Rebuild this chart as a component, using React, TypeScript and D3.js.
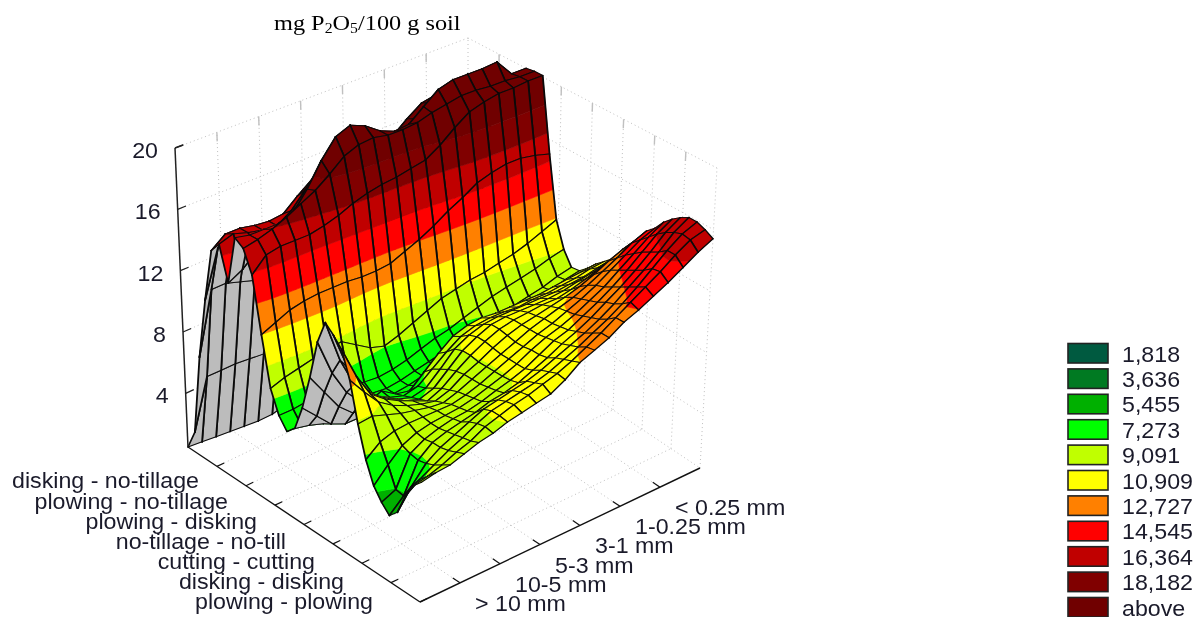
import React, { useEffect, useRef } from "react";
import * as d3 from "d3";

const WIDTH = 1202;
const HEIGHT = 617;

const treatments = [
  "disking - no-tillage",
  "plowing - no-tillage",
  "plowing - disking",
  "no-tillage - no-till",
  "cutting - cutting",
  "disking - disking",
  "plowing - plowing",
];
const fractions = ["> 10 mm", "10-5 mm", "5-3 mm", "3-1 mm", "1-0.25 mm", "< 0.25 mm"];
const zTicks = [4, 8, 12, 16, 20];
const legendLabels = ["1,818", "3,636", "5,455", "7,273", "9,091", "10,909", "12,727", "14,545", "16,364", "18,182", "above"];
const levels = [1.818, 3.636, 5.455, 7.273, 9.091, 10.909, 12.727, 14.545, 16.364, 18.182];
const levelColors = ["#005a40", "#007a22", "#00b000", "#00ff00", "#c0ff00", "#ffff00", "#ff8000", "#ff0000", "#c00000", "#800000", "#700000"];

// mg P2O5: one row per mesh line along the tillage axis,
// one column per mesh line along the fraction axis
const heights = [
  [0.5, 0.4, 0.3, 0.2, 0.1, 0, 0, 0.2, 0.5, 1, 1, 1, 1, 1, 1, 1, 1, 1, 1, 1, 1.2],
  [1.8, 5, 5, 5, 4.9, 4.8, 4.8, 5, 5, 5, 5, 5, 5, 5, 5, 5, 5, 5, 5, 5, 5],
  [7, 11, 11, 10.7, 10.4, 10.2, 10.2, 10.5, 10.5, 10.5, 10.5, 10.5, 10.5, 10.5, 10.5, 10.5, 10.5, 10.5, 10.5, 11, 11],
  [11, 14, 14, 14, 14, 14, 14.5, 15, 15.5, 16, 16, 16, 16, 16, 16, 16, 16, 16, 16, 16, 16],
  [14.5, 15.2, 15.2, 15, 14.9, 15, 15.8, 16.5, 17, 17, 17, 17, 17, 17.4, 18, 18.5, 18.5, 18.5, 18.5, 18, 18],
  [15.2, 15.5, 15.2, 15, 14.9, 15.5, 16.5, 17.5, 18, 18, 17.9, 17.6, 17.8, 18.6, 19.3, 19.5, 19.5, 19.5, 19.5, 18.8, 18.6],
  [13, 13.5, 14.3, 15, 15.4, 16.2, 17.3, 18.5, 18.9, 18.6, 18.1, 17.9, 18, 18.9, 19.6, 19.8, 19.8, 19.8, 19.8, 19, 18.9],
  [16.2, 16, 16, 16, 16.3, 17.5, 19, 20.2, 20.6, 20.2, 19.5, 19.1, 19.2, 20, 20.8, 21.1, 21.1, 21.1, 21.2, 20, 20],
  [15.8, 16, 16.3, 16.7, 17.2, 17.7, 18.4, 19.2, 19.6, 19.7, 19.5, 19.5, 19.6, 19.9, 20.1, 20.3, 20.3, 20.2, 20.2, 20.1, 20.1],
  [14.4, 15.3, 15.5, 15.5, 15.5, 15.7, 16, 16.4, 16.7, 16.9, 17, 17.2, 17.4, 18, 18.8, 19.5, 19.8, 20, 20, 20.1, 20.1],
  [10.9, 11.3, 11.7, 11.9, 12, 12, 12, 11.9, 11.9, 12, 12.4, 12.8, 13.3, 13.9, 14.4, 15, 15.3, 15.5, 15.5, 15.3, 15],
  [7.8, 8.1, 8.3, 8.5, 8.7, 8.8, 8.2, 7.6, 7.3, 7.6, 8, 8.4, 8.8, 9, 9.2, 9.3, 9.5, 9.7, 10, 10.4, 10.8],
  [6.4, 6.4, 6.5, 6.5, 6.4, 6.3, 6.1, 6, 6.1, 6.3, 6.6, 6.9, 7.1, 7.4, 7.7, 8, 8.2, 8.4, 8.6, 8.9, 9.1],
  [5.7, 5.7, 5.7, 5.7, 5.8, 5.8, 5.7, 5.6, 5.7, 5.9, 6.1, 6.3, 6.5, 6.7, 6.9, 7.1, 7.3, 7.5, 7.7, 8, 8.2],
  [6.2, 6, 5.7, 5.6, 5.6, 5.7, 5.7, 5.6, 5.7, 5.9, 6.1, 6.3, 6.6, 6.9, 7.1, 7.2, 7.4, 7.6, 7.8, 8.1, 8.3],
  [7.8, 6.9, 6, 5.6, 5.6, 5.7, 5.8, 5.8, 6, 6.4, 6.8, 7.2, 7.6, 7.9, 8, 8.1, 8.2, 8.3, 8.4, 8.6, 8.8],
  [10, 8.7, 7.4, 6.6, 6.8, 7.2, 6.6, 6.4, 7.2, 8, 8.7, 9, 9.1, 9, 9, 9, 9, 9.1, 9.2, 9.3, 9.4],
  [12.5, 10.2, 8.6, 7.6, 7.6, 7.1, 6.8, 7, 7.7, 8.4, 9, 9.3, 9.4, 9.4, 9.3, 9.4, 9.4, 9.5, 9.6, 9.8, 9.9],
  [14, 11.3, 9.4, 8.3, 7.8, 7.3, 7, 7.2, 8, 8.9, 9.4, 9.7, 9.8, 9.8, 9.8, 9.8, 9.8, 9.9, 10, 10.2, 10.4],
  [13.5, 11.1, 9.5, 8.6, 8, 7.5, 7.2, 7.5, 8.3, 9.1, 9.6, 10, 10.1, 10.1, 10.1, 10.1, 10.2, 10.4, 10.6, 10.8, 11],
  [12.9, 10.9, 9.4, 8.7, 8.2, 7.8, 7.4, 7.8, 8.5, 9.1, 9.6, 10, 10.2, 10.3, 10.4, 10.4, 10.6, 10.9, 11.2, 11.5, 11.7],
  [11.3, 10.2, 9.2, 8.6, 8.2, 7.9, 7.7, 8, 8.6, 9, 9.5, 9.9, 10.2, 10.4, 10.6, 10.8, 11.1, 11.5, 12, 12.4, 12.7],
  [8.9, 9, 8.7, 8.4, 8.2, 8, 7.9, 8.2, 8.6, 9, 9.4, 9.8, 10.2, 10.5, 10.8, 11.1, 11.5, 12, 12.5, 13.1, 13.5],
  [7, 7.7, 8, 8.1, 8.1, 8.1, 8.1, 8.3, 8.6, 9, 9.4, 9.8, 10.2, 10.5, 10.9, 11.3, 11.8, 12.4, 13, 13.6, 14],
  [5.7, 6.6, 7.4, 7.8, 8, 8.1, 8.2, 8.4, 8.7, 9, 9.4, 9.9, 10.3, 10.6, 11, 11.5, 12, 12.7, 13.4, 14.1, 14.7],
  [5, 5.4, 7.2, 7.7, 8, 8.2, 8.3, 8.5, 8.8, 9.05, 9.4, 9.9, 10.4, 10.7, 11.2, 11.7, 12.3, 13, 13.8, 14.6, 15.2],
  [4.5, 5.3, 7.1, 7.8, 8.1, 8.3, 8.5, 8.8, 8.95, 9.2, 9.6, 10, 10.5, 10.9, 11.4, 12, 12.6, 13.3, 14.1, 15, 15.6],
  [5, 6.2, 7.2, 7.8, 8.2, 8.6, 9, 9.2, 9.4, 9.6, 9.9, 10.3, 10.7, 11.1, 11.6, 12.2, 12.9, 13.6, 14.4, 15.3, 15.9],
  [6.3, 6.9, 7.4, 7.9, 8.3, 8.8, 9.2, 9.4, 9.6, 9.8, 10.1, 10.5, 10.9, 11.4, 11.9, 12.5, 13.2, 14, 14.8, 15.5, 15.9],
  [7.2, 7.4, 7.7, 8.1, 8.4, 8.9, 9.2, 9.5, 9.7, 10, 10.3, 10.7, 11.2, 11.7, 12.3, 12.9, 13.5, 14.1, 14.8, 15.4, 15.7],
  [7.7, 7.9, 8, 8.3, 8.6, 8.8, 9.1, 9.3, 9.5, 9.7, 10.2, 10.9, 11.3, 11.7, 12.3, 12.7, 13.2, 13.7, 14.3, 14.9, 15.4],
];

// box corners on screen
const floorLeft = [188, 447];
const floorFront = [420, 602];
const floorRight = [700, 468];
const topLeft = [175, 148];
const topBack = [468, 38];
const topRight = [717, 168];

const tScale = d3.scaleLinear().domain([0, 8]).range([0, 1]);
const sScale = d3.scaleLinear().domain([0, 7]).range([0, 1]);
const zScale = d3.scaleLinear().domain([0.5, 20]).range([0, 1]);
const rowScale = d3.scaleLinear().domain([0, heights.length - 1]).range([0, 8]);
const colScale = d3.scaleLinear().domain([0, heights[0].length - 1]).range([0, 7]);
const fillScale = d3.scaleThreshold<number, string>().domain(levels).range(levelColors);

function project(t: number, s: number, z: number) {
  const u = tScale(t);
  const v = sScale(s);
  const f = zScale(z);
  const fx = floorLeft[0] + u * (floorFront[0] - floorLeft[0]) + v * (floorRight[0] - floorFront[0]);
  const fy = floorLeft[1] + u * (floorFront[1] - floorLeft[1]) + v * (floorRight[1] - floorFront[1]);
  const tx = topLeft[0] + u * (topRight[0] - topBack[0]) + v * (topBack[0] - topLeft[0]);
  const ty = topLeft[1] + u * (topRight[1] - topBack[1]) + v * (topBack[1] - topLeft[1]);
  return { x: fx + (tx - fx) * f, y: fy + (ty - fy) * f, z };
}

type Vertex = { x: number; y: number; z: number };

// keep the part of a polygon on one side of a level
function clip(poly: Vertex[], level: number, keepAbove: boolean) {
  const out: Vertex[] = [];
  poly.forEach((a, i) => {
    const b = poly[(i + 1) % poly.length];
    const aIn = keepAbove ? a.z >= level : a.z <= level;
    const bIn = keepAbove ? b.z >= level : b.z <= level;
    if (aIn) out.push(a);
    if (aIn !== bIn) {
      const k = (level - a.z) / (b.z - a.z);
      out.push({ x: a.x + (b.x - a.x) * k, y: a.y + (b.y - a.y) * k, z: level });
    }
  });
  return out;
}

const polyLine = d3
  .line<Vertex>()
  .x((d) => d.x)
  .y((d) => d.y)
  .curve(d3.curveLinearClosed);

function drawChart(node: SVGSVGElement) {
  const svg = d3.select(node);
  svg.selectAll("*").remove();

  const sans = "'Liberation Sans', Arial, sans-serif";
  const gridColor = "#c0c0c0";

  const seg = (a: Vertex, b: Vertex, color: string, width: number, dash?: string, parent: any = svg) =>
    parent
      .append("line")
      .attr("x1", a.x)
      .attr("y1", a.y)
      .attr("x2", b.x)
      .attr("y2", b.y)
      .attr("stroke", color)
      .attr("stroke-width", width)
      .attr("stroke-dasharray", dash || null);

  const text = (x: number, y: number, label: string, anchor: string) =>
    svg
      .append("text")
      .attr("transform", `translate(${x},${y}) scale(1.08,1)`)
      .attr("text-anchor", anchor)
      .attr("font-family", sans)
      .attr("font-size", 21.5)
      .attr("fill", "#1a1a2a")
      .text(label);

  // dotted grid on floor and back walls
  const tTicks = d3.range(1, 8);
  const sTicks = d3.range(1, 7);
  const dots = "1 3";
  tTicks.forEach((t) => {
    seg(project(t, 0, 0.5), project(t, 7, 0.5), gridColor, 1, dots);
  });
  sTicks.forEach((s) => {
    seg(project(0, s, 0.5), project(8, s, 0.5), gridColor, 1, dots);
    seg(project(0, s, 0.5), project(0, s, 20), gridColor, 1, dots);
    seg(project(0, s, 20), project(0, s, 19.4), gridColor, 1.4);
  });
  tTicks.forEach((t) => {
    seg(project(t, 7, 0.5), project(t, 7, 20), gridColor, 1, dots);
    seg(project(t, 7, 20), project(t, 7, 19.4), gridColor, 1.4);
  });
  zTicks.forEach((z) => {
    seg(project(0, 0, z), project(0, 7, z), gridColor, 1, dots);
    seg(project(0, 7, z), project(8, 7, z), gridColor, 1, dots);
  });
  seg(project(0, 7, 0.5), project(0, 7, 20), gridColor, 1, dots);
  seg(project(0, 7, 0.5), project(0, 0, 0.5), gridColor, 1, dots);
  seg(project(0, 7, 0.5), project(8, 7, 0.5), gridColor, 1, dots);
  seg(project(8, 7, 0.5), project(8, 7, 20), gridColor, 1, dots);

  // surface, painted from the back corner to the viewer
  const nRows = heights.length;
  const nCols = heights[0].length;
  const surface = svg.append("g");
  for (let i = 0; i < nRows - 1; i++) {
    for (let j = nCols - 2; j >= 0; j--) {
      const quad = [
        project(rowScale(i), colScale(j), heights[i][j]),
        project(rowScale(i + 1), colScale(j), heights[i + 1][j]),
        project(rowScale(i + 1), colScale(j + 1), heights[i + 1][j + 1]),
        project(rowScale(i), colScale(j + 1), heights[i][j + 1]),
      ];
      const d1 = [quad[2].x - quad[0].x, quad[2].y - quad[0].y];
      const d2 = [quad[3].x - quad[1].x, quad[3].y - quad[1].y];
      const facing = d1[0] * d2[1] - d1[1] * d2[0];
      if (facing > 0) {
        surface.append("path").attr("d", polyLine(quad)).attr("fill", "#bcbcbc").attr("stroke", "#bcbcbc").attr("stroke-width", 0.5);
      } else {
        levelColors.forEach((color, k) => {
          let part: Vertex[] = quad;
          if (k > 0) part = clip(part, levels[k - 1], true);
          if (k < levels.length && part.length) part = clip(part, levels[k], false);
          if (part.length > 2) {
            surface
              .append("path")
              .attr("d", polyLine(part))
              .attr("fill", fillScale((k > 0 ? levels[k - 1] : 0) + 0.01))
              .attr("stroke", color)
              .attr("stroke-width", 0.6);
          }
        });
      }
      // the source image is stretched sideways, so steep mesh lines come out heavier
      quad.forEach((a, e) => {
        const b = quad[(e + 1) % 4];
        const steep = Math.abs(b.y - a.y) / (Math.hypot(b.x - a.x, b.y - a.y) || 1);
        seg(a, b, "#0a0a0a", 0.95 + 0.85 * steep * steep, undefined, surface).attr("stroke-linecap", "round");
      });
    }
  }

  // axes
  seg(project(0, 0, 0.5), project(0, 0, 20), "#222", 1.5);
  seg(project(0, 0, 20), { x: topLeft[0] + 8, y: topLeft[1] - 3, z: 20 }, "#222", 1.5);
  seg(project(0, 0, 0.5), project(8, 0, 0.5), "#111", 1.4);
  seg(project(8, 0, 0.5), project(8, 7, 0.5), "#111", 1.4);

  zTicks.forEach((z) => {
    const p = project(0, 0, z);
    seg(p, project(0, 0.2, z), "#222", 1.2);
    text(p.x - 17, p.y + 10, String(z), "end");
  });

  treatments.forEach((name, k) => {
    const t = tTicks[k];
    const p = project(t, 0, 0.5);
    seg(p, project(t, 0.18, 0.5), "#111", 1.2);
    text(p.x - 18, p.y + 22 + k * 0.75, name, "end");
  });
  seg(project(8, 0, 0.5), project(8, 0.18, 0.5), "#111", 1.2);

  fractions.forEach((name, k) => {
    const s = sTicks[k];
    const p = project(8, s, 0.5);
    seg(p, project(7.75, s, 0.5), "#111", 1.2);
    text(p.x + 15, p.y + 28, name, "start");
  });

  // legend
  const legendY = d3.scaleLinear().domain([0, 1]).range([343.5, 368.9]);
  legendLabels.forEach((label, k) => {
    svg
      .append("rect")
      .attr("x", 1068)
      .attr("y", legendY(k))
      .attr("width", 40)
      .attr("height", 19.5)
      .attr("fill", levelColors[k])
      .attr("stroke", "#222")
      .attr("stroke-width", 1.6);
    text(1122, legendY(k) + 18, label, "start");
  });

  // title
  const title = svg
    .append("text")
    .attr("transform", "translate(274,30) scale(1.13,1)")
    .attr("font-family", "'Liberation Serif', 'Times New Roman', serif")
    .attr("font-size", 21.5)
    .attr("fill", "#000");
  title.append("tspan").text("mg P");
  title.append("tspan").attr("font-size", 14).attr("dy", 3).text("2");
  title.append("tspan").attr("dy", -3).text("O");
  title.append("tspan").attr("font-size", 14).attr("dy", 3).text("5");
  title.append("tspan").attr("dy", -3).text("/100 g soil");
}

export default function App() {
  const ref = useRef<SVGSVGElement>(null);
  useEffect(() => {
    if (ref.current) drawChart(ref.current);
  }, []);
  return (
    <svg
      ref={ref}
      width={WIDTH}
      height={HEIGHT}
      viewBox={`0 0 ${WIDTH} ${HEIGHT}`}
      style={{ position: "absolute", left: 0, top: 0, background: "#fff", filter: "blur(0.35px)" }}
    />
  );
}
